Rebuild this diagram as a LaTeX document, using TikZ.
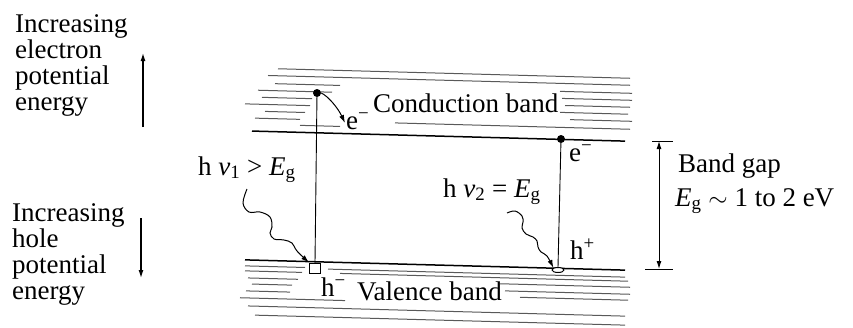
\documentclass[tikz,border=0pt]{standalone}
\usepackage{fontspec}
\setmainfont{Liberation Serif}
\usetikzlibrary{arrows.meta,shapes.geometric}
\newcommand\hatchseg[3]{\draw[hatchline] ({#1},{#3+0.027*(#1-250)}) -- ({#2},{#3+0.027*(#2-250)});}
\newcommand\bandline[3]{\draw[bandedge] ({#1},{#3+0.027*(#1-250)}) -- ({#2},{#3+0.027*(#2-250)});}
\begin{document}
\begin{tikzpicture}[x=1pt,y=-1pt,
  txt/.style={inner sep=0pt, anchor=base west, font=\fontsize{27}{26}\selectfont},
  blocktxt/.style={inner sep=0pt, anchor=north west, align=left, font=\fontsize{27}{26}\selectfont},
  hatchline/.style={draw=black!65, line width=1pt},
  bandedge/.style={draw=black, line width=1.5pt},
  trans/.style={draw=black, line width=0.9pt},
  tip/.style={-{Latex[length=8pt,width=5pt]}, line width=1pt},
  dotnode/.style={circle, fill=black, inner sep=0pt, minimum size=8pt},
]
\useasboundingbox (0,0) rectangle (853,327);

% ---- conduction band hatching ----
\hatchseg{278}{630}{68}
\hatchseg{268}{630}{75}
\hatchseg{275}{340}{83}
\hatchseg{258}{332}{90}
\hatchseg{262}{312}{97}
\hatchseg{245}{310}{104}
\hatchseg{265}{305}{111}
\hatchseg{255}{300}{118}
\hatchseg{395}{630}{119}
\hatchseg{300}{340}{124}
\hatchseg{560}{632}{83}
\hatchseg{562}{632}{90}
\hatchseg{565}{630}{97}
\hatchseg{560}{628}{104}
\hatchseg{570}{632}{111}
\bandline{252}{625}{131}

% ---- valence band hatching ----
\bandline{245}{625}{260}
\hatchseg{245}{305}{266}
\hatchseg{328}{625}{267}
\hatchseg{245}{302}{271}
\hatchseg{340}{628}{271}
\hatchseg{248}{298}{278}
\hatchseg{252}{292}{284}
\hatchseg{500}{630}{277}
\hatchseg{246}{290}{291}
\hatchseg{505}{630}{284}
\hatchseg{240}{345}{298}
\hatchseg{520}{628}{290}
\hatchseg{248}{625}{306}
\hatchseg{255}{625}{315}

% ---- states ----
\node[dotnode] (d1) at (317,93) {};
\node[dotnode] (d2) at (561,139) {};
\node[draw=black, fill=white, line width=1pt, minimum width=11pt, minimum height=10pt, inner sep=0pt] (hb) at (315,268) {};
\node[draw=black, fill=white, line width=1pt, ellipse, minimum width=12pt, minimum height=5pt, inner sep=0pt] (he) at (558,270) {};

\draw[trans] (d1) -- (hb.north);
\draw[trans] (d2) -- (he.north);

% thermalisation arrow
\coordinate (eLt) at (345,123);
\draw[tip] (d1.east) .. controls (328,96) and (338,108) .. (eLt);

% photons
\coordinate (p1s) at (247,189);
\coordinate (p2s) at (507,213);
\draw[tip] plot[smooth, tension=0.6] coordinates {(p1s) (243,203) (249,212) (260,212) (270,217) (272,227) (270,233) (274,239) (284,240) (292,243) (297,251) (hb.north west)};
\draw[tip] plot[smooth, tension=0.6] coordinates {(p2s) (515,211) (522,216) (523,222) (522,228) (526,234) (533,237) (537,241) (538,247) (541,252) (547,256) (he.north west)};

% band gap arrow
\coordinate (gt) at (659,141);
\coordinate (gb) at (659,269);
\draw[line width=1pt] (652,141) -- (673,141);
\draw[line width=1pt] (645,269) -- (673,269);
\draw[{Latex[length=8pt,width=5pt]}-{Latex[length=8pt,width=5pt]}, line width=1pt] (gt) -- (gb);

% axis arrows
\coordinate (ua) at (143,127);
\coordinate (ub) at (143,53);
\draw[tip, line width=1.2pt] (ua) -- (ub);
\coordinate (da) at (141,218);
\coordinate (db) at (141,278);
\draw[tip, line width=1.2pt] (da) -- (db);

% ---- texts ----
\node[blocktxt] (lab1) at (15,14.6) {Increasing\\electron\\potential\\energy};
\node[blocktxt] (lab2) at (12,203.6) {Increasing\\hole\\potential\\energy};
\node[txt] (cb) at (373,112) {Conduction band};
\node[txt] (vb) at (357,300) {Valence band};
\node[txt] (e1) at (346,129) {e\textsuperscript{−}};
\node[txt] (e2) at (569,161) {e\textsuperscript{−}};
\node[txt] (hp) at (570,259) {h\textsuperscript{+}};
\node[txt] (hm) at (321,296) {h\textsuperscript{−}};
\node[txt] (nu1) at (198,175) {h {\itshape ν}\textsubscript{1} > {\itshape E}\textsubscript{g}};
\node[txt] (nu2) at (443,197) {h {\itshape ν}\textsubscript{2} = {\itshape E}\textsubscript{g}};
\node[txt] (bg1) at (678,172) {Band gap};
\node[txt] (bg2) at (675,206) {{\itshape E}\textsubscript{g} $\sim$ 1 to 2 eV};
\end{tikzpicture}
\end{document}
